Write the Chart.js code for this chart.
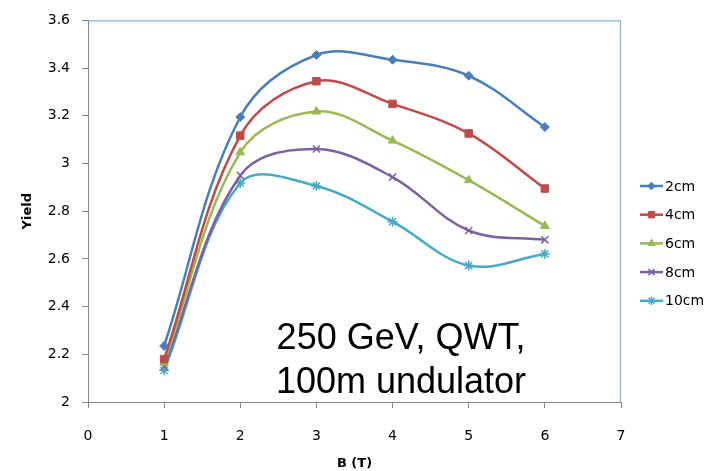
<!DOCTYPE html>
<html><head><meta charset="utf-8">
<script src="https://cdn.jsdelivr.net/npm/chart.js@4/dist/chart.umd.min.js"></script>
<style>html,body{margin:0;padding:0;background:#fff}#wrap{width:714px;height:471px;position:relative}</style>
</head><body><div id="wrap"><canvas id="c" width="714" height="471"></canvas></div>
<script>
// ---- data ----
const xValues = [1, 2, 3, 4, 5, 6];
const seriesNames = ['2cm', '4cm', '6cm', '8cm', '10cm'];
const y2cm  = [2.235, 3.195, 3.455, 3.435, 3.368, 3.153];
const y4cm  = [2.180, 3.117, 3.345, 3.250, 3.126, 2.895];
const y6cm  = [2.165, 3.047, 3.218, 3.096, 2.930, 2.738];
const y8cm  = [2.150, 2.950, 3.061, 2.943, 2.719, 2.680];
const y10cm = [2.133, 2.918, 2.906, 2.756, 2.572, 2.621];
const xTickValues = [0, 1, 2, 3, 4, 5, 6, 7];
const yTickValues = [2, 2.2, 2.4, 2.6, 2.8, 3, 3.2, 3.4, 3.6];
const xAxisTitle = 'B (T)';
const yAxisTitle = 'Yield';
const annotationLines = ['250 GeV, QWT,', '100m undulator'];

// ---- styles ----
const colors = ['#4A7EBB', '#BE4B48', '#98B954', '#7D60A0', '#46AAC5'];
const markerStyles = ['rectRot', 'rect', 'triangle', 'crossRot', 'star'];
const markerRadius = [4.5, 5.3, 5, 5, 5];
const allSeries = [y2cm, y4cm, y6cm, y8cm, y10cm];
const FONT = 'DejaVu Sans';

const datasets = allSeries.map((vals, i) => ({
  label: seriesNames[i],
  data: xValues.map((x, j) => ({x: x, y: vals[j]})),
  borderColor: colors[i],
  backgroundColor: colors[i],
  borderWidth: 2.5,
  pointStyle: markerStyles[i],
  pointRadius: markerRadius[i],
  pointBorderWidth: (markerStyles[i] === 'crossRot' || markerStyles[i] === 'star') ? 1.5 : 1,
  pointBackgroundColor: colors[i],
  pointBorderColor: colors[i],
  tension: 0.36,
  fill: false
}));

const framePlugin = {
  id: 'frame',
  beforeDatasetsDraw(chart) {
    const a = chart.chartArea, ctx = chart.ctx;
    ctx.save();
    ctx.strokeStyle = '#8DB0DA';
    ctx.lineWidth = 1.2;
    ctx.beginPath();
    ctx.moveTo(a.left, a.top + 0.5);
    ctx.lineTo(a.right - 0.5, a.top + 0.5);
    ctx.lineTo(a.right - 0.5, a.bottom);
    ctx.stroke();
    ctx.restore();
  }
};

const legendPlugin = {
  id: 'customLegend',
  afterDraw(chart) {
    const ctx = chart.ctx;
    const x0 = 640, x1 = 663, y0 = 186, dy = 28.7;
    ctx.save();
    chart.data.datasets.forEach((ds, i) => {
      const y = y0 + i * dy;
      ctx.strokeStyle = ds.borderColor;
      ctx.lineWidth = 2.5;
      ctx.beginPath();
      ctx.moveTo(x0, y);
      ctx.lineTo(x1, y);
      ctx.stroke();
      ctx.fillStyle = ds.pointBackgroundColor;
      ctx.strokeStyle = ds.pointBorderColor;
      ctx.lineWidth = ds.pointBorderWidth;
      Chart.helpers.drawPoint(ctx, {pointStyle: ds.pointStyle, radius: ds.pointRadius * 0.85, rotation: 0, borderWidth: ds.pointBorderWidth}, (x0 + x1) / 2, y);
      ctx.fillStyle = '#000';
      ctx.font = '14px "' + FONT + '"';
      ctx.textBaseline = 'middle';
      ctx.textAlign = 'left';
      ctx.fillText(ds.label, 665, y + 1);
    });
    ctx.restore();
  }
};

const annotationPlugin = {
  id: 'annot',
  afterDraw(chart) {
    const ctx = chart.ctx;
    ctx.save();
    ctx.fillStyle = '#000';
    ctx.font = '36px "Liberation Sans"';
    ctx.textAlign = 'center';
    ctx.textBaseline = 'alphabetic';
    ctx.fillText(annotationLines[0], 401, 349);
    ctx.fillText(annotationLines[1], 401, 393);
    ctx.restore();
  }
};

new Chart(document.getElementById('c'), {
  type: 'line',
  data: {datasets: datasets},
  options: {
    responsive: false,
    animation: false,
    devicePixelRatio: 1,
    layout: {padding: {top: 17, right: 93, left: 0, bottom: 0}},
    plugins: {legend: {display: false}, tooltip: {enabled: false}},
    scales: {
      x: {
        type: 'linear', min: 0, max: 7,
        afterBuildTicks: s => { s.ticks = xTickValues.map(v => ({value: v})); },
        ticks: {font: {family: FONT, size: 14}, color: '#000', padding: 20, maxRotation: 0, autoSkip: false},
        grid: {drawOnChartArea: false, drawTicks: true, tickLength: 6, color: '#868686'},
        border: {color: '#868686', width: 1},
        title: {display: true, text: xAxisTitle, font: {family: FONT, size: 13, weight: 'bold'}, color: '#000', padding: 0},
        afterFit: s => { s.height = 69; }
      },
      y: {
        type: 'linear', min: 2, max: 3.6,
        afterBuildTicks: s => { s.ticks = yTickValues.map(v => ({value: v})); },
        ticks: {font: {family: FONT, size: 14}, color: '#000', padding: 12, autoSkip: false,
          callback: v => String(+Number(v).toFixed(1))},
        grid: {drawOnChartArea: false, drawTicks: true, tickLength: 6, color: '#868686'},
        border: {color: '#868686', width: 1},
        title: {display: true, text: yAxisTitle, font: {family: FONT, size: 13, weight: 'bold'}, color: '#000', padding: 20},
        afterFit: s => { s.width = 88; }
      }
    }
  },
  plugins: [framePlugin, legendPlugin, annotationPlugin]
});
</script></body></html>
